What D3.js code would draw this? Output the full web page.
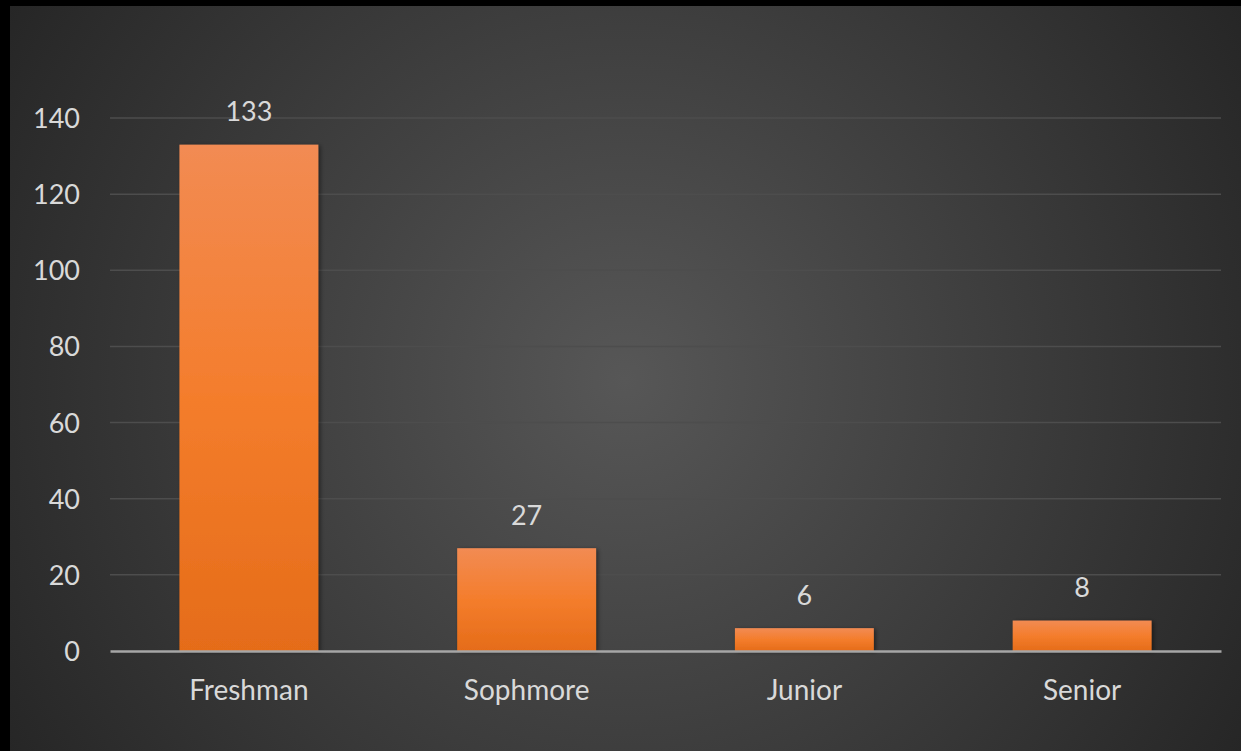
<!DOCTYPE html>
<html><head><meta charset="utf-8">
<script src="https://cdn.jsdelivr.net/npm/d3@7"></script>
<style>html,body{margin:0;padding:0;background:#000;overflow:hidden}</style>
</head><body>
<svg id="c" width="1241" height="751"></svg>
<script>
const categories = ["Freshman","Sophmore","Junior","Senior"];
const values = [133,27,6,8];
const yTicks = [0,20,40,60,80,100,120,140];

const W=1241,H=751;
const svg=d3.select("#c");
const defs=svg.append("defs");
const rg=defs.append("radialGradient").attr("id","bg").attr("gradientUnits","userSpaceOnUse")
  .attr("cx",625).attr("cy",380).attr("r",720);
rg.append("stop").attr("offset","0").attr("stop-color","#575757");
rg.append("stop").attr("offset","1").attr("stop-color","#262626");
const lg=defs.append("linearGradient").attr("id","bar").attr("x1",0).attr("y1",0).attr("x2",0).attr("y2",1);
lg.append("stop").attr("offset","0").attr("stop-color","#f28b53");
lg.append("stop").attr("offset","0.5").attr("stop-color","#f47d2c");
lg.append("stop").attr("offset","1").attr("stop-color","#e56c19");
const f=defs.append("filter").attr("id","sh").attr("x","-10%").attr("y","-10%").attr("width","130%").attr("height","130%");
f.append("feDropShadow").attr("dx",2).attr("dy",1).attr("stdDeviation",2).attr("flood-color","#000").attr("flood-opacity",0.45);

svg.append("rect").attr("x",10).attr("y",6).attr("width",W-10).attr("height",H-6).attr("fill","url(#bg)");

const x=d3.scaleBand().domain(categories).range([110,1221]).paddingInner(0).paddingOuter(0);
const y=d3.scaleLinear().domain([0,140]).range([651,118]);
const font="Lato, 'Open Sans', sans-serif";

svg.append("g").selectAll("line").data(yTicks.filter(d=>d>0)).join("line")
  .attr("x1",110).attr("x2",1221).attr("y1",d=>y(d)).attr("y2",d=>y(d))
  .attr("stroke","#4d4d4d").attr("stroke-width",1.5);

const ya=svg.append("g").attr("transform","translate(80,0)")
  .call(d3.axisLeft(y).tickValues(yTicks).tickSize(0).tickPadding(0));
ya.select(".domain").remove();
ya.selectAll("text").attr("fill","#d9d9d9").style("font-family",font).style("font-size","27px").attr("dy","0.35em");

const bw=x.bandwidth()*0.5;
svg.append("g").selectAll("rect").data(values).join("rect")
  .attr("x",(d,i)=>x(categories[i])+x.bandwidth()/2-bw/2).attr("width",bw)
  .attr("y",d=>y(d)).attr("height",d=>y(0)-y(d))
  .attr("fill","url(#bar)").attr("filter","url(#sh)");

const xa=svg.append("g").attr("transform","translate(0,651)")
  .call(d3.axisBottom(x).tickSize(0).tickPadding(0));
xa.select(".domain").attr("stroke","#a6a6a6").attr("stroke-width",2.5);
xa.selectAll("text").attr("fill","#d9d9d9").style("font-family",font).style("font-size","28px").attr("y",39).attr("dy","0.35em");

svg.append("g").selectAll("text").data(values).join("text")
  .attr("x",(d,i)=>x(categories[i])+x.bandwidth()/2).attr("y",d=>y(d)-33).attr("dy","0.35em")
  .attr("text-anchor","middle").attr("fill","#d9d9d9").style("font-family",font).style("font-size","27px")
  .text(d=>d);
</script>
</body></html>
